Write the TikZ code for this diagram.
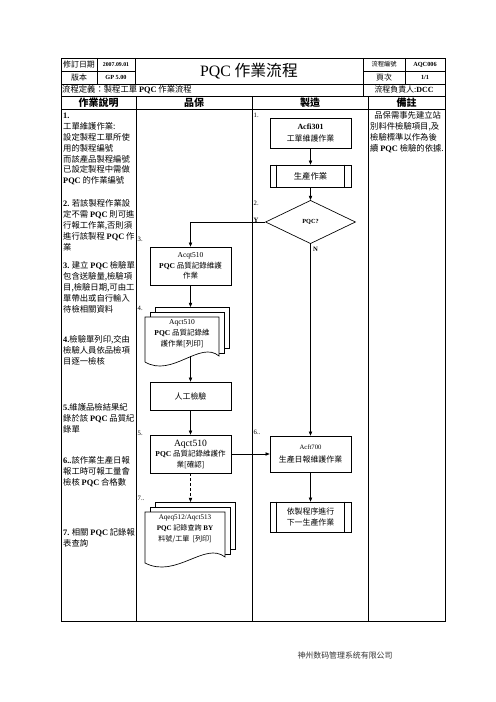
\documentclass[tikz,border=0pt]{standalone}
\usepackage{fontspec}
\setmainfont{Noto Sans CJK TC}
\newfontfamily\tms{Liberation Serif}
\newfontfamily\sccjk{Noto Sans CJK SC}
\usetikzlibrary{positioning, shapes.geometric, arrows.meta, calc}
\newcommand{\bl}[1]{{\tms\bfseries #1}}
\newcommand{\tmr}[1]{{\tms #1}}

\begin{document}
\begin{tikzpicture}[x=1.2pt, y=-1.2pt,
  grid/.style={line width=0.6pt},
  frame/.style={line width=0.9pt},
  cell/.style={inner sep=0pt, font=\fontsize{9.5}{11}\selectfont},
  valcell/.style={inner sep=0pt, font=\tms\bfseries\fontsize{7.5}{9}\selectfont},
  hcell/.style={inner sep=0pt, font=\fontsize{12}{14}\selectfont\bfseries},
  note/.style={anchor=north west, inner sep=0pt, align=left,
               font=\fontsize{10}{13.1}\selectfont},
  num/.style={anchor=west, inner sep=0pt, font=\tms\fontsize{8}{9}\selectfont},
  procbox/.style={draw, line width=0.8pt, fill=white, align=center,
                  inner sep=1pt, minimum width=97.2pt,
                  font=\fontsize{9}{12.6}\selectfont},
  decision/.style={diamond, draw, line width=0.8pt, fill=white, inner sep=0pt,
                   minimum width=108pt, minimum height=52pt},
  page/.style={line width=0.8pt},
  doctext/.style={align=center, inner sep=0pt, font=\fontsize{9}{13.2}\selectfont},
  arr/.style={-{Triangle[length=5pt, width=4pt]}, line width=0.8pt}
]
  \useasboundingbox (0,0) rectangle (496,702);

  % form grid
  \draw[frame] (61,58) rectangle (445,621);
  \draw[grid] (61,71) -- (135,71) (363,71) -- (445,71);
  \draw[grid] (61,84) -- (445,84) (61,96) -- (445,96) (61,109) -- (445,109);
  \draw[grid] (97,58) -- (97,84) (135,58) -- (135,84)
              (363,58) -- (363,96) (405,58) -- (405,84);
  \draw[grid] (136,96) -- (136,621) (252,96) -- (252,621) (368,96) -- (368,621);

  \node[cell] (revlbl) at (79,64.5) {修訂日期};
  \node[valcell, font=\tms\bfseries\fontsize{7}{8}\selectfont] (revdate) at (116,64.5) {2007.09.01};
  \node[cell, font=\fontsize{19}{22}\selectfont] (title) at (249,71) {\tmr{PQC} 作業流程};
  \node[cell, font=\fontsize{7.5}{9}\selectfont] (idlbl) at (384,64.5) {流程編號};
  \node[valcell] (idval) at (425,64.5) {AQC006};
  \node[cell] (verlbl) at (79,77.5) {版本};
  \node[valcell] (verval) at (116,77.5) {GP 5.00};
  \node[cell] (pglbl) at (384,77.5) {頁次};
  \node[valcell] (pgval) at (425,77.5) {1/1};
  \node[cell, anchor=west, font=\fontsize{10}{12}\selectfont] (flowdef) at (62,90)
    {流程定義：製程工單 \bl{PQC} 作業流程};
  \node[cell] (owner) at (404,90) {流程負責人:\bl{DCC}};

  \node[hcell] (hdesc) at (98.5,102.5) {作業說明};
  \node[hcell] (hqa) at (194,102.5) {品保};
  \node[hcell] (hmfg) at (310,102.5) {製造};
  \node[hcell] (hnote) at (406.5,102.5) {備註};

  % description column
  \node[note] (desc1) at (63,110.6) {\strut\bl{1.}\\
    工單維護作業:\\設定製程工單所使\\用的製程編號\\而該產品製程編號\\
    已設定製程中需做\\\bl{PQC} 的作業編號};
  \node[note] (desc2) at (63,198.6) {\strut\bl{2.} 若該製程作業設\\
    定不需 \bl{PQC} 則可進\\行報工作業,否則須\\進行該製程 \bl{PQC} 作\\業};
  \node[note] (desc3) at (63,260.6) {\strut\bl{3.} 建立 \bl{PQC} 檢驗單\\
    包含送驗量,檢驗項\\目,檢驗日期,可由工\\單帶出或自行輸入\\待檢相關資料};
  \node[note] (desc4) at (63,334.6) {\strut\bl{4.}檢驗單列印,交由\\
    檢驗人員依品檢項\\目逐一檢核};
  \node[note] (desc5) at (63,402.6) {\strut\bl{5.}維護品檢結果紀\\
    錄於該 \bl{PQC} 品質紀\\錄單};
  \node[note] (desc6) at (63,455.6) {\strut\bl{6..}該作業生產日報\\
    報工時可報工量會\\檢核 \bl{PQC} 合格數};
  \node[note] (desc7) at (63,527.6) {\strut\bl{7.} 相關 \bl{PQC} 記錄報\\表查詢};

  \node[note] (remark) at (370,110.6) {\strut\hspace{0.5em}品保需事先建立站\\
    別料件檢驗項目,及\\檢驗標準以作為後\\續 \bl{PQC} 檢驗的依據.};

  % manufacturing lane
  \node[procbox, minimum height=36pt, font=\fontsize{9.5}{14}\selectfont] (acfi)
    at (310.5,133) {\bl{Acfi301}\\工單維護作業};
  \node[procbox, minimum height=26.4pt, font=\fontsize{10}{12}\selectfont] (prod)
    at (310.5,176) {生產作業};
  \draw[page] ($(prod.north west)+(7,0)$) -- ($(prod.south west)+(7,0)$)
              ($(prod.north east)+(-7,0)$) -- ($(prod.south east)+(-7,0)$);
  \node[decision, font=\tms\bfseries\fontsize{7.5}{9}\selectfont] (pqc) at (310.5,222) {PQC?};

  % QA lane
  \node[procbox, minimum height=45.6pt] (acqt) at (190.5,266)
    {\tmr{Acqt510}\\\bl{PQC} 品質記錄維護\\作業};

  \draw[page] (155,312) -- (155,307) -- (229,307) -- (229,348) -- (224,348);
  \draw[page] (150,317) -- (150,312) -- (224,312) -- (224,353) -- (219,353);
  \draw[page, fill=white] (145,317) -- (219,317) -- (219,356)
    .. controls (200,340) and (172,378) .. (145,362) -- cycle;
  \node[doctext] (doc1) at (182,334) {\tmr{Aqct510}\\\bl{PQC} 品質記錄維\\護作業[列印]};
  \coordinate (doc1in) at (190.5,307);
  \coordinate (doc1out) at (190.5,356);

  \node[procbox, minimum height=33.6pt, font=\fontsize{9.5}{12}\selectfont] (manual)
    at (190.5,396) {人工檢驗};
  \node[procbox, minimum height=45.6pt] (confirm) at (190.5,454)
    {{\tms\fontsize{11.5}{13}\selectfont Aqct510}\\\bl{PQC} 品質記錄維護作\\業[確認]};

  \draw[page] (155,507) -- (155,502) -- (235,502) -- (235,549) -- (230,549);
  \draw[page] (150,512) -- (150,507) -- (230,507) -- (230,554) -- (225,554);
  \draw[page, fill=white] (145,512) -- (225,512) -- (225,557)
    .. controls (205,541) and (176,579) .. (145,563) -- cycle;
  \node[doctext, font=\fontsize{8.5}{13.2}\selectfont] (doc2) at (185,529)
    {\tmr{Aqeq512/Aqct513}\\\bl{PQC} 記錄查詢 \bl{BY}\\料號/工單\ \ [列印]};
  \coordinate (doc2in) at (190.5,502);

  \node[procbox, minimum height=43.2pt, font=\fontsize{9.5}{12}\selectfont] (acft)
    at (310.5,454) {{\tms\fontsize{8}{9}\selectfont Acft700}\\[4pt]生產日報維護作業};
  \node[procbox, minimum height=36pt, font=\fontsize{9.5}{12.5}\selectfont] (next)
    at (310.5,517) {依製程序進行\\下一生產作業};
  \draw[page] ($(next.north west)+(7,0)$) -- ($(next.south west)+(7,0)$)
              ($(next.north east)+(-7,0)$) -- ($(next.south east)+(-7,0)$);

  \draw[arr] (acfi) -- (prod);
  \draw[arr] (prod) -- (pqc);
  \draw[arr] (pqc.west) -| (acqt.north);
  \draw[arr] (acqt) -- (doc1in);
  \draw[arr] (doc1out) -- (manual);
  \draw[arr] (manual) -- (confirm);
  \draw[arr] (confirm) -- (acft);
  \draw[arr, dashed] (confirm) -- (doc2in);
  \draw[arr] (pqc) -- (acft);
  \draw[arr] (acft) -- (next);

  \node[num] (n1) at (253.5,115) {1.};
  \node[num] (n2) at (253.5,203) {2.};
  \node[num, font=\tms\bfseries\fontsize{8}{9}\selectfont] (ylbl) at (253.5,220) {Y};
  \node[num, font=\tms\bfseries\fontsize{8}{9}\selectfont] (nlbl) at (313,249) {N};
  \node[num] (n3) at (137.5,239) {3.};
  \node[num] (n4) at (137.5,308) {4.};
  \node[num] (n5) at (137.5,433) {5.};
  \node[num] (n6) at (253.5,432) {6..};
  \node[num] (n7) at (137.5,498) {7..};

  \node[font=\sccjk\fontsize{9.5}{11}\selectfont, text=black!80] (company)
    at (345,655) {神州数码管理系统有限公司};
\end{tikzpicture}
\end{document}
